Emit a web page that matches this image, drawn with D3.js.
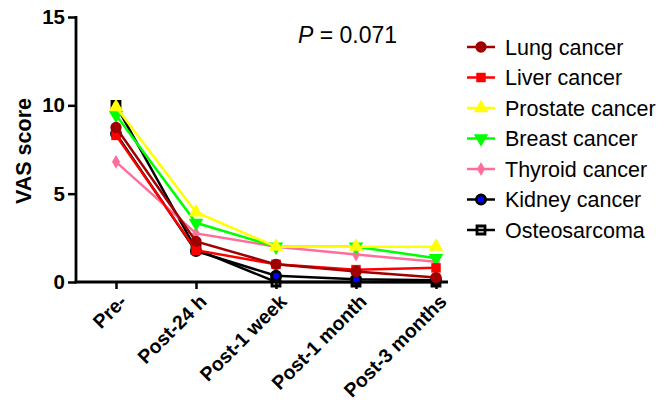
<!DOCTYPE html>
<html><head><meta charset="utf-8">
<script src="https://cdn.jsdelivr.net/npm/d3@7"></script>
<style>body{margin:0;background:#fff}svg{display:block;font-family:"Liberation Sans",Arial,sans-serif}</style>
</head><body><svg id="c" width="672" height="402"></svg>
<script>
const categories = ["Pre-", "Post-24 h", "Post-1 week", "Post-1 month", "Post-3 months"];
const seriesNames = ["Lung cancer","Liver cancer","Prostate cancer","Breast cancer","Thyroid cancer","Kidney cancer","Osteosarcoma"];
const lung      = [8.75, 2.3, 1.0, 0.6, 0.25];
const liver     = [8.3, 1.8, 1.0, 0.7, 0.8];
const prostate  = [9.9, 3.95, 2.0, 2.0, 2.0];
const breast    = [9.45, 3.35, 2.0, 2.0, 1.35];
const thyroid   = [6.8, 2.75, 2.0, 1.55, 1.15];
const kidney    = [8.4, 1.75, 0.35, 0.15, 0.1];
const osteo     = [10.0, 1.85, 0.0, 0.0, 0.0];
const yTicks = [0, 5, 10, 15];
const pText = "0.071";

const colors = ["#A00000","#FF0000","#FFFF00","#00FF00","#FF6E9B","#000000","#000000"];
const fills  = ["#A00000","#FF0000","#FFFF00","#00FF00","#FF6E9B","#0000FF","none"];
const strokes= [null,null,null,null,null,"#000000","#000000"];
const shapes = [d3.symbolCircle, d3.symbolSquare, d3.symbolTriangle, "tridown", d3.symbolDiamond, d3.symbolCircle, d3.symbolSquare];
const sizes  = [100, 90, 90, 90, 55, 65, 64];
const data = [lung, liver, prostate, breast, thyroid, kidney, osteo];

const svg = d3.select("#c");
const x = d3.scalePoint().domain(categories).range([116, 436]);
const y = d3.scaleLinear().domain([0, 15]).range([282, 17]);

function marker(g, i, cx, cy) {
  let path;
  if (shapes[i] === "tridown") {
    path = d3.symbol(d3.symbolTriangle, sizes[i])();
    g.append("path").attr("d", path).attr("transform", `translate(${cx},${cy}) rotate(180)`)
      .attr("fill", fills[i]);
    return;
  }
  path = d3.symbol(shapes[i], sizes[i])();
  const p = g.append("path").attr("d", path).attr("transform", `translate(${cx},${cy})`)
    .attr("fill", fills[i]);
  if (strokes[i]) p.attr("stroke", strokes[i]).attr("stroke-width", 2.8);
}

// axes
const yAxis = svg.append("g").attr("transform", "translate(76,0)")
  .call(d3.axisLeft(y).tickValues(yTicks).tickSize(8).tickPadding(3));
const xAxis = svg.append("g").attr("transform", "translate(0,282)")
  .call(d3.axisBottom(x).tickSize(7).tickFormat(""));
[yAxis, xAxis].forEach(a => {
  a.select(".domain").remove();
  a.selectAll("line").attr("stroke", "#000").attr("stroke-width", 2.5);
});
svg.append("line").attr("x1", 76).attr("x2", 76).attr("y1", 16).attr("y2", 283.2).attr("stroke", "#000").attr("stroke-width", 2.8);
svg.append("line").attr("x1", 74.6).attr("x2", 448).attr("y1", 282).attr("y2", 282).attr("stroke", "#000").attr("stroke-width", 2.8);
yAxis.selectAll("text").attr("font-size", 20.5).attr("font-weight", "bold").attr("fill", "#000")
  .attr("font-family", "'Liberation Sans', Arial, sans-serif");

// x labels
svg.append("g").selectAll("text").data(categories).join("text")
  .attr("transform", d => `translate(${x(d) + 7},${298}) rotate(-45)`)
  .attr("text-anchor", "end").attr("dy", "0.35em")
  .attr("font-size", 19.5).attr("font-weight", "bold").text(d => d);

// y title
svg.append("text").attr("transform", "translate(31,151) rotate(-90)")
  .attr("text-anchor", "middle").attr("font-size", 21.5).attr("font-weight", "bold").text("VAS score");

// P value
const pt = svg.append("text").attr("x", 298).attr("y", 43).attr("font-size", 23);
pt.append("tspan").attr("font-style", "italic").text("P");
pt.append("tspan").text(" = " + pText);

// series, drawn in reverse order
const line = d3.line().x((d, j) => x(categories[j])).y(d => y(d));
for (let i = data.length - 1; i >= 0; i--) {
  const g = svg.append("g");
  g.append("path").attr("d", line(data[i])).attr("fill", "none")
    .attr("stroke", colors[i]).attr("stroke-width", 2.5);
  data[i].forEach((v, j) => marker(g, i, x(categories[j]), y(v)));
}

// legend
const lg = svg.append("g");
seriesNames.forEach((name, i) => {
  const cy = 47 + i * 30.5;
  lg.append("line").attr("x1", 467).attr("x2", 495).attr("y1", cy).attr("y2", cy)
    .attr("stroke", colors[i]).attr("stroke-width", 2.5);
  marker(lg, i, 481, cy);
  lg.append("text").attr("x", 505).attr("y", cy + 7.5).attr("font-size", 21.5).text(name);
});
</script></body></html>
